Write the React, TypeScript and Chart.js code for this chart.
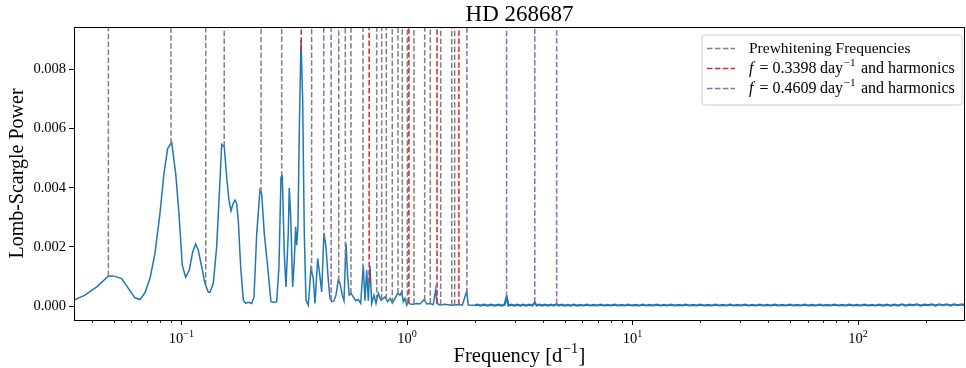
import React, { useEffect, useRef } from "react";
import { Chart, registerables } from "chart.js";

Chart.register(...registerables);

// ---------------- DATA ----------------
const TITLE = "HD 268687";
const Y_LABEL = "Lomb-Scargle Power";

// Periodogram, low-frequency part (d^-1)
const freqLow = [
  0.03337, 0.03733, 0.04206, 0.04735, 0.04984, 0.05429, 0.06219, 0.06546, 0.06887, 0.07248,
  0.07628, 0.08028, 0.08362, 0.08684, 0.09047, 0.09425, 0.09747, 0.1008, 0.1044, 0.1083,
  0.1121, 0.1156, 0.1187, 0.1229, 0.1271, 0.1315, 0.1338, 0.1384, 0.1432, 0.1482,
  0.1508, 0.1548, 0.1586, 0.1624, 0.1658, 0.1697, 0.1727, 0.1757, 0.1786, 0.183,
  0.188, 0.1926, 0.1978, 0.2048, 0.2097, 0.2156, 0.2229, 0.2268, 0.2329, 0.2411,
  0.2493, 0.2571, 0.2643, 0.2706, 0.2762, 0.2799, 0.2857, 0.2906, 0.2975, 0.3006,
  0.305, 0.3112, 0.3164, 0.3209, 0.3242, 0.3285, 0.3329, 0.3388, 0.3447, 0.3504,
  0.3565, 0.365, 0.3752, 0.3841, 0.3908, 0.4018, 0.4113, 0.4184, 0.4284, 0.4373,
  0.4477, 0.4555, 0.4635, 0.4745, 0.4843, 0.4958, 0.5046, 0.5166, 0.5256, 0.5365,
  0.5458, 0.5548, 0.5645, 0.5779, 0.5922, 0.6081, 0.6233, 0.64, 0.6512, 0.6627,
  0.6736, 0.6854, 0.6975, 0.7141, 0.7288, 0.7461, 0.767, 0.7989, 0.821, 0.8407,
  0.8607, 0.8847, 0.9095, 0.9311, 0.9473, 0.9629, 0.9797, 0.9969, 1.0134, 1.031,
  1.066, 1.104, 1.142, 1.193, 1.223, 1.265, 1.308, 1.341, 1.359, 1.4,
  1.474, 1.578, 1.689, 1.759, 1.839, 1.87, 2.002,
];
const powerLow = [
  0.0002, 0.00037, 0.00065, 0.00101, 0.00102, 0.00093, 0.00028, 0.00022, 0.00045, 0.00093,
  0.00178, 0.00313, 0.00448, 0.00532, 0.00553, 0.00448, 0.00313, 0.00138, 0.00097, 0.00122,
  0.00183, 0.0021, 0.00189, 0.00133, 0.00077, 0.00047, 0.00047, 0.00077, 0.002, 0.00425,
  0.00546, 0.00538, 0.00436, 0.00358, 0.00322, 0.00347, 0.00358, 0.00347, 0.0029, 0.00133,
  0.0002, 0.00009, 0.00013, 0.00009, 0.00031, 0.00245, 0.00392, 0.0038, 0.00245, 0.00133,
  0.00015, 0.00012, 0.00015, 0.00133, 0.00436, 0.0044, 0.00178, 0.00065, 0.00245, 0.004,
  0.00302, 0.00065, 0.00155, 0.00268, 0.00206, 0.00268, 0.00583, 0.00898, 0.00695, 0.00245,
  0.0002, 0.00003, 0.00127, 0.00093, 0.00009, 0.00161, 0.00099, 0.00048, 0.00247, 0.002,
  0.00088, 0.00026, 0.00015, 0.00018, 0.00037, 0.00088, 0.00077, 0.00037, 0.00018, 0.00212,
  0.00099, 0.00037, 0.00043, 0.00031, 0.00018, 0.00022, 0.00009, 0.00138, 0.00018, 0.00122,
  0.00018, 0.00135, 0.00009, 0.00037, 0.00009, 0.00043, 0.0002, 0.00031, 0.00015, 0.00026,
  0.0001, 0.00026, 0.00043, 0.00037, 0.00048, 0.00015, 0.00026, 0.00003, 0.00015, 0.00007,
  0.00006, 0.00009, 0.00007, 0.00022, 0.00007, 0.00009, 0.00005, 0.00056, 0.00009, 0.00004,
  0.00006, 0.00003, 0.00005, 0.00003, 0.0005, 0.00004, 0.00003,
];

// Periodogram, high-frequency part (noise floor with small harmonic spikes)
const freqHigh = [
  2.002, 2.05, 2.12, 2.2, 2.28, 2.36, 2.45, 2.54, 2.63, 2.71, 2.765,
  2.82, 2.9, 2.99, 3.08, 3.18, 3.28, 3.38, 3.49, 3.6, 3.687,
  3.76, 3.86, 3.97, 4.09, 4.21, 4.34, 4.47, 4.609, 4.72, 4.86,
  5.0, 5.16, 5.32, 5.5, 5.68, 5.87, 6.07, 6.28, 6.5, 6.73,
  6.97, 7.22, 7.48, 7.75, 8.03, 8.32, 8.62, 8.93, 9.25, 9.58,
  9.93, 10.3, 10.7, 11.1, 11.5, 11.9, 12.3, 12.8, 13.3, 13.8,
  14.3, 14.8, 15.4, 16.0, 16.6, 17.2, 17.9, 18.6, 19.3, 20.0,
  20.8, 21.6, 22.4, 23.3, 24.2, 25.1, 26.1, 27.1, 28.1, 29.2,
  30.3, 31.5, 32.7, 34.0, 35.3, 36.7, 38.1, 39.6, 41.1, 42.7,
  44.4, 46.1, 47.9, 49.8, 51.7, 53.7, 55.8, 58.0, 60.2, 62.6,
  65.0, 67.5, 70.1, 72.8, 75.7, 78.6, 81.7, 84.9, 88.2, 91.6,
  95.2, 98.9, 102.7, 106.7, 110.9, 115.2, 119.7, 124.4, 129.2, 134.2,
  139.5, 144.9, 150.6, 156.4, 162.5, 168.8, 175.4, 182.2, 189.3, 196.7,
  204.4, 212.3, 220.6, 229.2, 238.1, 247.4, 257.0, 267.0, 277.4, 288.2,
  298.2,
];
const powerHigh = [
  0.00003, 0.00005, 0.00002, 0.00005, 0.00002, 0.00005, 0.00002, 0.00005, 0.00002, 0.00005, 0.00031,
  0.00002, 0.00005, 0.00002, 0.00005, 0.00002, 0.00005, 0.00002, 0.00005, 0.00002, 0.00012,
  0.00002, 0.00005, 0.00002, 0.00005, 0.00002, 0.00005, 0.00002, 0.00006, 0.00002, 0.00005,
  0.00002, 0.00004, 0.00002, 0.00005, 0.00002, 0.00004, 0.00002, 0.00005, 0.00002, 0.00004,
  0.00002, 0.00005, 0.00002, 0.00004, 0.00002, 0.00005, 0.00002, 0.00004, 0.00002, 0.00005,
  0.00002, 0.00004, 0.00002, 0.00005, 0.00002, 0.00004, 0.00002, 0.00005, 0.00002, 0.00004,
  0.00002, 0.00005, 0.00002, 0.00004, 0.00002, 0.00005, 0.00002, 0.00004, 0.00002, 0.00005,
  0.00002, 0.00004, 0.00002, 0.00005, 0.00002, 0.00004, 0.00002, 0.00005, 0.00002, 0.00004,
  0.00002, 0.00005, 0.00002, 0.00004, 0.00002, 0.00005, 0.00002, 0.00004, 0.00002, 0.00005,
  0.00002, 0.00004, 0.00002, 0.00005, 0.00002, 0.00004, 0.00002, 0.00005, 0.00002, 0.00004,
  0.00002, 0.00005, 0.00002, 0.00004, 0.00002, 0.00005, 0.00002, 0.00004, 0.00002, 0.00005,
  0.00002, 0.00004, 0.00002, 0.00005, 0.00002, 0.00004, 0.00002, 0.00005, 0.00002, 0.00005,
  0.00002, 0.00005, 0.00002, 0.00006, 0.00002, 0.00005, 0.00003, 0.00006, 0.00002, 0.00005,
  0.00003, 0.00006, 0.00002, 0.00006, 0.00003, 0.00006, 0.00002, 0.00006, 0.00003, 0.00006,
  0.00003,
];

// Marked frequencies (d^-1)
const prewhiteningFreqs = [
  0.0474, 0.0898, 0.1281, 0.1547, 0.2254, 0.2782, 0.3776, 0.4275, 0.4982, 0.5328,
  0.5644, 0.6383, 0.7339, 0.7723, 0.8094, 0.8606, 0.9122, 0.9531, 1.004, 1.074,
  1.198, 1.269, 1.411, 1.579, 1.627,
];
const harmonicsF1 = [0.3398, 0.6796, 1.0194, 1.3592, 1.699];
const harmonicsF2 = [0.4609, 1.8436, 2.7654, 3.6872, 4.609];

const legendLabels = ["Prewhitening Frequencies", "0.3398", "0.4609"];

// Axes
const X_MIN = 0.03337;
const X_MAX = 298.2;
const Y_MIN = -0.00047;
const Y_MAX = 0.00943;
const yTickValues = [0, 0.002, 0.004, 0.006, 0.008];
const xTickValues = [0.1, 1, 10, 100];
const xTickExponents = ["\u22121", "0", "1", "2"];

// ---------------- STYLE ----------------
const FONT = '"Liberation Serif", "DejaVu Serif", serif';
const BLUE = "#1f77b4";
const GRAY = "#808080";
const RED = "#d62728";
const PURPLE = "#9467bd";
const DASH = [5.5, 2.4];

const allFreq = [...freqLow, ...freqHigh.slice(1)];
const allPower = [...powerLow, ...powerHigh.slice(1)];

function powerAt(f: number): number {
  for (let i = 0; i < allFreq.length - 1; i++) {
    if (f >= allFreq[i] && f <= allFreq[i + 1]) {
      const t = (Math.log(f) - Math.log(allFreq[i])) / (Math.log(allFreq[i + 1]) - Math.log(allFreq[i]));
      return allPower[i] + t * (allPower[i + 1] - allPower[i]);
    }
  }
  return 0;
}

type Part = { text: string; italic?: boolean; sup?: boolean; gap?: number };

function partFont(p: Part, size: number) {
  const s = p.sup ? size * 0.7 : size;
  return `${p.italic ? "italic " : ""}${s}px ${FONT}`;
}

function richWidth(ctx: CanvasRenderingContext2D, parts: Part[], size: number) {
  let w = 0;
  for (const p of parts) {
    ctx.font = partFont(p, size);
    w += ctx.measureText(p.text).width + (p.gap || 0);
  }
  return w;
}

function drawRich(ctx: CanvasRenderingContext2D, x: number, baseline: number, parts: Part[], size: number) {
  let cx = x;
  for (const p of parts) {
    ctx.font = partFont(p, size);
    ctx.fillText(p.text, cx, p.sup ? baseline - size * 0.42 : baseline);
    cx += ctx.measureText(p.text).width + (p.gap || 0);
  }
  return cx - x;
}

const decorPlugin = {
  id: "decor",
  afterDatasetsDraw(chart: any) {
    const { ctx, chartArea: a } = chart;
    const x = chart.scales.x;
    const y = chart.scales.y;
    ctx.save();
    ctx.beginPath();
    ctx.rect(a.left, a.top, a.right - a.left, a.bottom - a.top);
    ctx.clip();
    const group = (freqs: number[], color: string) => {
      ctx.strokeStyle = color;
      ctx.lineWidth = 1.5;
      ctx.setLineDash(DASH);
      for (const f of freqs) {
        const px = x.getPixelForValue(f);
        const yb = y.getPixelForValue(powerAt(f));
        ctx.beginPath();
        ctx.moveTo(px, yb);
        ctx.lineTo(px, a.top);
        ctx.stroke();
      }
    };
    group(prewhiteningFreqs, GRAY);
    group(harmonicsF1, RED);
    group(harmonicsF2, PURPLE);
    ctx.restore();
  },
  afterDraw(chart: any) {
    const { ctx, chartArea: a } = chart;
    const x = chart.scales.x;
    ctx.save();
    ctx.setLineDash([]);

    // x ticks (major + minor)
    ctx.strokeStyle = "#000";
    for (let e = -2; e <= 2; e++) {
      for (let m = 1; m <= 9; m++) {
        const v = m * Math.pow(10, e);
        if (v < X_MIN || v > X_MAX) continue;
        const px = Math.round(x.getPixelForValue(v)) + 0.5;
        ctx.lineWidth = m === 1 ? 1 : 0.8;
        ctx.beginPath();
        ctx.moveTo(px, a.bottom);
        ctx.lineTo(px, a.bottom + (m === 1 ? 5 : 3));
        ctx.stroke();
      }
    }

    // x tick labels
    ctx.fillStyle = "#000";
    ctx.textBaseline = "alphabetic";
    ctx.textAlign = "left";
    xTickValues.forEach((v, i) => {
      const parts: Part[] = [{ text: "10" }, { text: xTickExponents[i], sup: true }];
      const w = richWidth(ctx, parts, 14.5);
      const px = x.getPixelForValue(v);
      drawRich(ctx, px - w / 2, 343, parts, 14.5);
    });

    // frame
    ctx.strokeStyle = "#000";
    ctx.lineWidth = 1;
    ctx.strokeRect(Math.round(a.left) + 0.5, Math.round(a.top) + 0.5, Math.round(a.right - a.left) - 1, Math.round(a.bottom - a.top));

    // title
    ctx.font = `23px ${FONT}`;
    ctx.textAlign = "center";
    ctx.fillText(TITLE, (a.left + a.right) / 2, 21);

    // x axis title
    ctx.textAlign = "left";
    const xt: Part[] = [{ text: "Frequency [d", gap: 0.5 }, { text: "\u22121", sup: true, gap: 0.5 }, { text: "]" }];
    const xtw = richWidth(ctx, xt, 20.5);
    drawRich(ctx, (a.left + a.right) / 2 - xtw / 2, 362, xt, 20.5);

    // y axis title
    ctx.save();
    ctx.translate(18, (a.top + a.bottom) / 2);
    ctx.rotate(-Math.PI / 2);
    ctx.font = `20px ${FONT}`;
    ctx.textAlign = "center";
    ctx.textBaseline = "middle";
    ctx.fillText(Y_LABEL, 0, 0);
    ctx.restore();

    // legend
    const lx = 702, ly = 35, lw = 260, lh = 70, r = 3;
    ctx.beginPath();
    ctx.moveTo(lx + r, ly);
    ctx.lineTo(lx + lw - r, ly);
    ctx.quadraticCurveTo(lx + lw, ly, lx + lw, ly + r);
    ctx.lineTo(lx + lw, ly + lh - r);
    ctx.quadraticCurveTo(lx + lw, ly + lh, lx + lw - r, ly + lh);
    ctx.lineTo(lx + r, ly + lh);
    ctx.quadraticCurveTo(lx, ly + lh, lx, ly + lh - r);
    ctx.lineTo(lx, ly + r);
    ctx.quadraticCurveTo(lx, ly, lx + r, ly);
    ctx.closePath();
    ctx.fillStyle = "rgba(255,255,255,0.8)";
    ctx.fill();
    ctx.strokeStyle = "#cccccc";
    ctx.lineWidth = 1;
    ctx.stroke();

    const colors = [GRAY, RED, PURPLE];
    const mathRow = (val: string): Part[] => [
      { text: "f", italic: true, gap: 6 },
      { text: "=", gap: 4 },
      { text: val, gap: 3.5 },
      { text: "day", gap: 0.5 },
      { text: "\u22121", sup: true, gap: 1.5 },
      { text: " and harmonics" },
    ];
    const rows: Part[][] = [[{ text: legendLabels[0] }], mathRow(legendLabels[1]), mathRow(legendLabels[2])];
    rows.forEach((parts, i) => {
      const cy = 48.5 + i * 20;
      ctx.strokeStyle = colors[i];
      ctx.lineWidth = 1.5;
      ctx.setLineDash(DASH);
      ctx.beginPath();
      ctx.moveTo(707, cy);
      ctx.lineTo(735, cy);
      ctx.stroke();
      ctx.setLineDash([]);
      ctx.fillStyle = "#000";
      ctx.textAlign = "left";
      ctx.textBaseline = "alphabetic";
      drawRich(ctx, 749, cy + 4, parts, i === 0 ? 15.5 : 16);
    });

    ctx.restore();
  },
};

export default function App() {
  const ref = useRef<HTMLCanvasElement>(null);
  useEffect(() => {
    const canvas = ref.current;
    if (!canvas) return;
    const lowPoints = freqLow.map((f, i) => ({ x: f, y: powerLow[i] }));
    const highPoints = freqHigh.map((f, i) => ({ x: f, y: powerHigh[i] }));
    const chart = new Chart(canvas, {
      type: "line",
      data: {
        datasets: [
          {
            data: lowPoints,
            borderColor: BLUE,
            borderWidth: 1.5,
            pointRadius: 0,
            tension: 0,
            fill: false,
          },
          {
            data: highPoints,
            borderColor: BLUE,
            borderWidth: 2.2,
            pointRadius: 0,
            tension: 0,
            fill: false,
          },
        ],
      },
      options: {
        responsive: false,
        animation: false,
        devicePixelRatio: 1,
        layout: { padding: { top: 27, right: 1, left: 0, bottom: 0 } },
        plugins: {
          legend: { display: false },
          title: { display: false },
          tooltip: { enabled: false },
        },
        scales: {
          x: {
            type: "logarithmic",
            min: X_MIN,
            max: X_MAX,
            grid: { display: false },
            border: { display: false },
            ticks: { display: false },
            afterFit: (s: any) => {
              s.height = 48;
            },
          },
          y: {
            type: "linear",
            min: Y_MIN,
            max: Y_MAX,
            grid: {
              display: true,
              drawOnChartArea: false,
              drawTicks: true,
              tickLength: 5,
              tickColor: "#000",
              tickWidth: 1,
            },
            border: { display: false },
            ticks: {
              color: "#000",
              font: { family: FONT, size: 14.5 },
              padding: 3,
              callback: (v: any) => Number(v).toFixed(3),
            },
            afterBuildTicks: (s: any) => {
              s.ticks = yTickValues.map((v) => ({ value: v }));
            },
            afterFit: (s: any) => {
              s.width = 74;
            },
          },
        },
      } as any,
      plugins: [decorPlugin],
    });
    return () => chart.destroy();
  }, []);
  return (
    <div style={{ position: "fixed", left: 0, top: 0, width: 966, height: 368, background: "#fff" }}>
      <canvas ref={ref} width={966} height={368} style={{ display: "block" }} />
    </div>
  );
}
